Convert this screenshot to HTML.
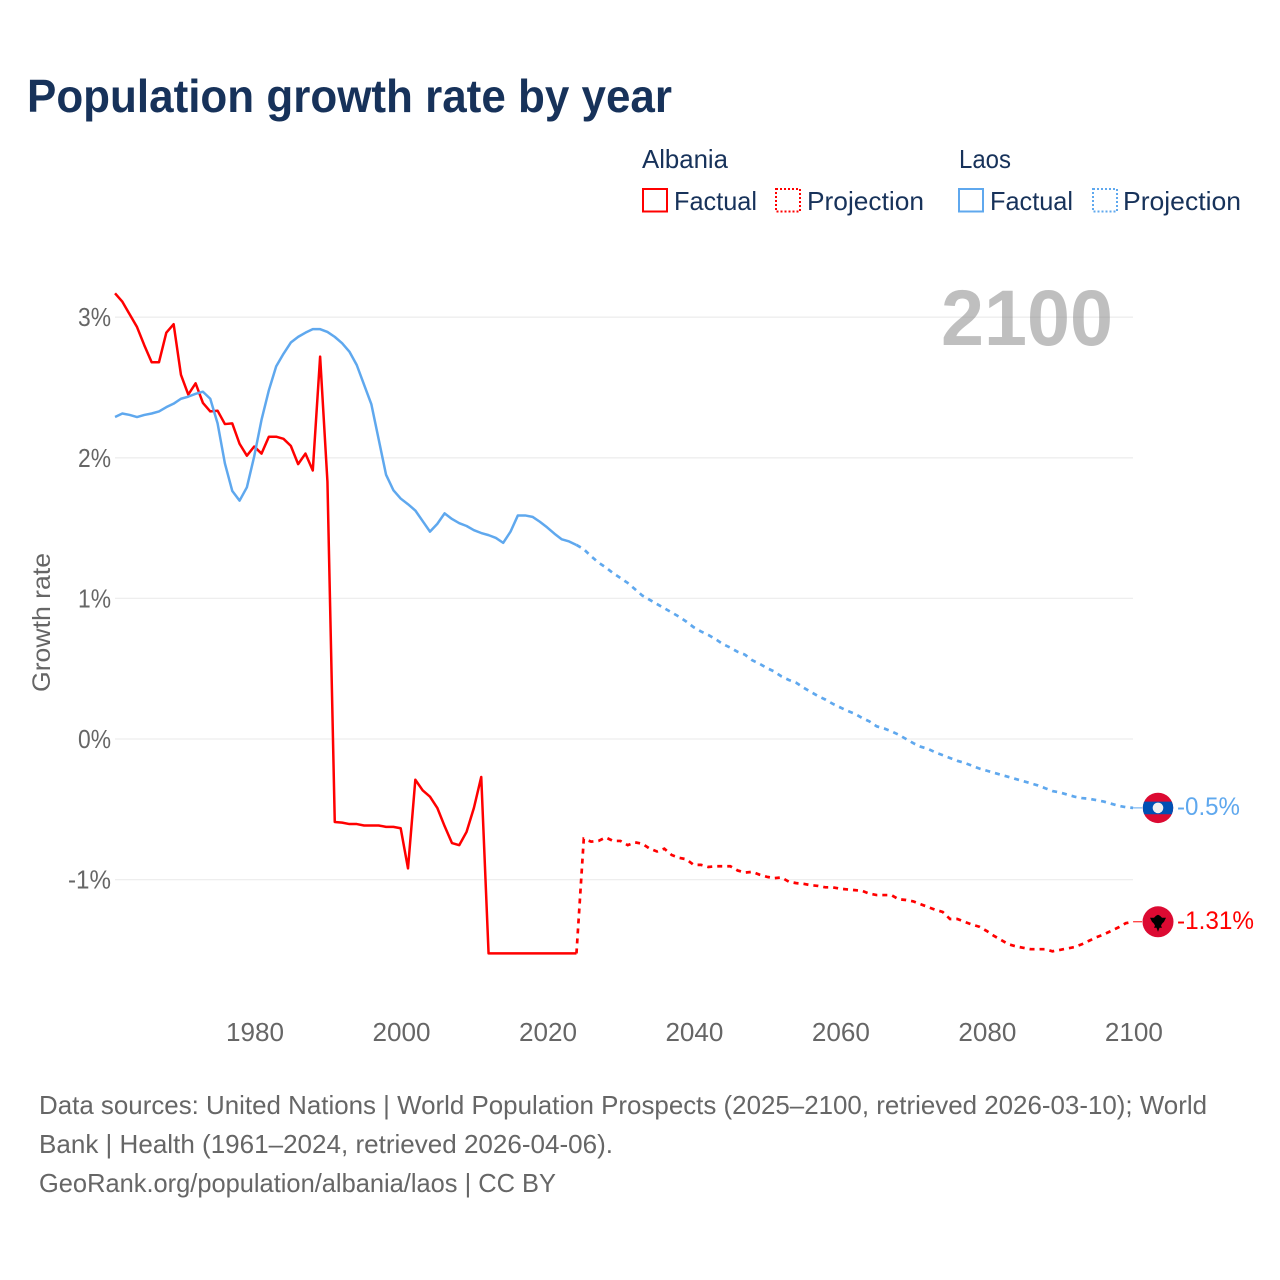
<!DOCTYPE html>
<html lang="en">
<head>
<meta charset="utf-8">
<title>Population growth rate by year</title>
<style>
html,body{margin:0;padding:0;background:#fff;}
svg{display:block;font-family:"Liberation Sans",sans-serif;}
</style>
</head>
<body>
<svg id="chart" xmlns="http://www.w3.org/2000/svg" width="1280" height="1280" viewBox="0 0 1280 1280">
  <rect width="1280" height="1280" fill="#ffffff"/>
  <text x="27" y="112" font-size="46" font-weight="700" fill="#17325a" textLength="645" lengthAdjust="spacingAndGlyphs">Population growth rate by year</text>

  <g fill="#17325a" font-size="26">
    <text x="642" y="168" textLength="86" lengthAdjust="spacingAndGlyphs">Albania</text>
    <rect x="643" y="189" width="24" height="22.5" fill="none" stroke="#ff0000" stroke-width="2"/>
    <text x="674" y="210" textLength="83" lengthAdjust="spacingAndGlyphs">Factual</text>
    <rect x="776" y="189" width="24" height="22.5" fill="none" stroke="#ff0000" stroke-width="2" stroke-dasharray="2 2"/>
    <text x="807" y="210" textLength="117" lengthAdjust="spacingAndGlyphs">Projection</text>
    <text x="959" y="168" textLength="52" lengthAdjust="spacingAndGlyphs">Laos</text>
    <rect x="959" y="189" width="24" height="22.5" fill="none" stroke="#5fa8ee" stroke-width="2"/>
    <text x="990" y="210" textLength="83" lengthAdjust="spacingAndGlyphs">Factual</text>
    <rect x="1093" y="189" width="24" height="22.5" fill="none" stroke="#5fa8ee" stroke-width="2" stroke-dasharray="2 2"/>
    <text x="1123" y="210" textLength="118" lengthAdjust="spacingAndGlyphs">Projection</text>
  </g>

  <g id="grid"></g>
  <text x="941" y="345" font-size="79" font-weight="700" fill="#808080" fill-opacity="0.5" textLength="172" lengthAdjust="spacingAndGlyphs">2100</text>
  <g id="yticks" fill="#666666" font-size="26"></g>
  <g id="xticks" fill="#666666" font-size="26"></g>
  <text transform="translate(50,692) rotate(-90)" x="0" y="0" font-size="25" fill="#666666" textLength="139" lengthAdjust="spacingAndGlyphs">Growth rate</text>
  <g id="series"></g>
  <g id="endpoints"></g>

  <g fill="#666666" font-size="26">
    <text x="39" y="1114" textLength="1168" lengthAdjust="spacingAndGlyphs">Data sources: United Nations | World Population Prospects (2025–2100, retrieved 2026-03-10); World</text>
    <text x="39" y="1153" textLength="574" lengthAdjust="spacingAndGlyphs">Bank | Health (1961–2024, retrieved 2026-04-06).</text>
    <text x="39" y="1192" textLength="517" lengthAdjust="spacingAndGlyphs">GeoRank.org/population/albania/laos | CC BY</text>
  </g>
</svg>
<script>
const yTickValues = [3, 2, 1, 0, -1];
const xTickYears = [1980, 2000, 2020, 2040, 2060, 2080, 2100];
const factualStartYear = 1961;
const projectionStartYear = 2024;
const endYear = 2100;
const albaniaEndLabel = "-1.31%";
const laosEndLabel = "-0.5%";

const albaniaFactual = [3.17,3.11,3.02,2.93,2.80,2.68,2.68,2.89,2.95,2.59,2.45,2.53,2.39,2.33,2.335,2.24,2.245,2.10,2.015,2.08,2.03,2.15,2.15,2.135,2.085,1.955,2.03,1.91,2.72,1.83,-0.59,-0.595,-0.605,-0.605,-0.615,-0.615,-0.615,-0.625,-0.625,-0.635,-0.92,-0.29,-0.365,-0.41,-0.49,-0.62,-0.74,-0.755,-0.66,-0.49,-0.27,-1.525,-1.525,-1.525,-1.525,-1.525,-1.525,-1.525,-1.525,-1.525,-1.525,-1.525,-1.525,-1.525];
const albaniaProjection = [-1.525,-0.71,-0.73,-0.725,-0.70,-0.725,-0.725,-0.755,-0.735,-0.745,-0.78,-0.80,-0.78,-0.825,-0.845,-0.855,-0.895,-0.895,-0.91,-0.905,-0.905,-0.905,-0.935,-0.95,-0.945,-0.965,-0.98,-0.99,-0.985,-1.015,-1.025,-1.03,-1.04,-1.045,-1.055,-1.055,-1.065,-1.07,-1.075,-1.08,-1.10,-1.11,-1.11,-1.11,-1.14,-1.145,-1.155,-1.175,-1.195,-1.215,-1.23,-1.28,-1.28,-1.30,-1.32,-1.335,-1.365,-1.40,-1.43,-1.46,-1.475,-1.485,-1.495,-1.495,-1.495,-1.51,-1.50,-1.49,-1.48,-1.46,-1.435,-1.41,-1.39,-1.365,-1.34,-1.31,-1.30];
const laosFactual = [2.29,2.315,2.305,2.29,2.305,2.315,2.33,2.36,2.385,2.42,2.435,2.455,2.47,2.42,2.245,1.96,1.765,1.695,1.79,2.01,2.27,2.48,2.65,2.74,2.82,2.86,2.89,2.915,2.915,2.895,2.86,2.815,2.755,2.66,2.52,2.38,2.13,1.88,1.77,1.71,1.67,1.625,1.55,1.475,1.53,1.605,1.565,1.535,1.515,1.485,1.465,1.45,1.43,1.395,1.475,1.59,1.59,1.58,1.545,1.505,1.46,1.42,1.405,1.38];
const laosProjection = [1.38,1.35,1.30,1.255,1.22,1.18,1.145,1.11,1.065,1.02,0.99,0.96,0.93,0.90,0.87,0.835,0.795,0.765,0.74,0.71,0.675,0.65,0.62,0.60,0.56,0.535,0.505,0.48,0.445,0.42,0.40,0.365,0.335,0.305,0.28,0.25,0.225,0.20,0.18,0.15,0.125,0.09,0.075,0.055,0.03,0.0,-0.03,-0.055,-0.07,-0.095,-0.115,-0.135,-0.155,-0.17,-0.19,-0.21,-0.225,-0.24,-0.255,-0.27,-0.285,-0.30,-0.315,-0.33,-0.35,-0.37,-0.38,-0.395,-0.41,-0.42,-0.425,-0.435,-0.445,-0.46,-0.475,-0.485,-0.49];

const SVGNS = "http://www.w3.org/2000/svg";
const RED = "#ff0000";
const BLUE = "#5fa8ee";
function xScale(year) { return 254.2 + (year - 1980) * 7.324; }
function yScale(pct) { return 739 - pct * 140.6; }
function make(tag, attrs, parent) {
  const el = document.createElementNS(SVGNS, tag);
  for (const k in attrs) el.setAttribute(k, attrs[k]);
  parent.appendChild(el);
  return el;
}
function pathFrom(values, startYear) {
  return values.map(function (v, i) {
    return (i ? "L" : "M") + xScale(startYear + i).toFixed(2) + " " + yScale(v).toFixed(2);
  }).join(" ");
}

const gridG = document.getElementById("grid");
const yG = document.getElementById("yticks");
const xG = document.getElementById("xticks");
const seriesG = document.getElementById("series");
const endG = document.getElementById("endpoints");

yTickValues.forEach(function (v) {
  const line = make("line", { x1: 115, x2: 1133, y1: yScale(v), y2: yScale(v), stroke: "#eeeeee", "stroke-width": 1.3 }, gridG);
  
  
  const label = make("text", { x: 111, y: yScale(v) + 9, "text-anchor": "end", textLength: v < 0 ? 43 : 33, lengthAdjust: "spacingAndGlyphs" }, yG);
  
  
  label.textContent = v + "%";
});

xTickYears.forEach(function (year) {
  const label = make("text", { x: xScale(year) - 28.2, y: 1041, textLength: 58, lengthAdjust: "spacingAndGlyphs" }, xG);
  
  
  label.textContent = year;
});

const albaniaFactualLine = make("path", { d: pathFrom(albaniaFactual, factualStartYear), fill: "none", stroke: RED, "stroke-width": 2.5, "stroke-linejoin": "round" }, seriesG);


const albaniaProjectionLine = make("path", { d: pathFrom(albaniaProjection, projectionStartYear), fill: "none", stroke: RED, "stroke-width": 2.7, "stroke-dasharray": "5 5" }, seriesG);


const laosFactualLine = make("path", { d: pathFrom(laosFactual, factualStartYear), fill: "none", stroke: BLUE, "stroke-width": 2.5, "stroke-linejoin": "round" }, seriesG);


const laosProjectionLine = make("path", { d: pathFrom(laosProjection, projectionStartYear), fill: "none", stroke: BLUE, "stroke-width": 2.7, "stroke-dasharray": "5 5" }, seriesG);



const xEnd = xScale(endYear);
const markerX = 1158;

const laosY = yScale(laosProjection[laosProjection.length - 1]);
const laosConnector = make("line", { x1: xEnd, x2: markerX - 16, y1: laosY, y2: laosY, stroke: BLUE, "stroke-width": 1 }, endG);


const laosFlag = make("g", { transform: "translate(" + markerX + "," + laosY + ")" }, endG);


make("circle", { r: 15.2, fill: "#dc0a32" }, laosFlag);
make("path", { d: "M-13.8 -6.3 A15.2 15.2 0 0 0 -13.8 6.3 L13.8 6.3 A15.2 15.2 0 0 0 13.8 -6.3 Z", fill: "#0050b4" }, laosFlag);
make("circle", { r: 5.3, fill: "#f0f0f0" }, laosFlag);
const laosLabel = make("text", { x: 1177, y: laosY + 7, "font-size": 25, fill: BLUE, textLength: 63, lengthAdjust: "spacingAndGlyphs" }, endG);


laosLabel.textContent = laosEndLabel;

const albaniaY = yScale(albaniaProjection[albaniaProjection.length - 1]);
const albaniaConnector = make("line", { x1: xEnd, x2: markerX - 16, y1: albaniaY, y2: albaniaY, stroke: RED, "stroke-width": 1 }, endG);


const albaniaFlag = make("g", { transform: "translate(" + markerX + "," + albaniaY + ")" }, endG);


make("circle", { r: 15.5, fill: "#dc0a32" }, albaniaFlag);
make("path", { d: "M-8 -4 L-4 -4 L-2 -6 L0 -7 L2 -6 L4 -4 L8 -4 L6 0 L4 2 L3 4 L4 6 L1.5 6 L0 10 L-1.5 6 L-4 6 L-3 4 L-4 2 L-6 0 Z", fill: "#000000" }, albaniaFlag);
const albaniaLabel = make("text", { x: 1177, y: albaniaY + 7, "font-size": 25, fill: RED, textLength: 77, lengthAdjust: "spacingAndGlyphs" }, endG);


albaniaLabel.textContent = albaniaEndLabel;
</script>
</body>
</html>
